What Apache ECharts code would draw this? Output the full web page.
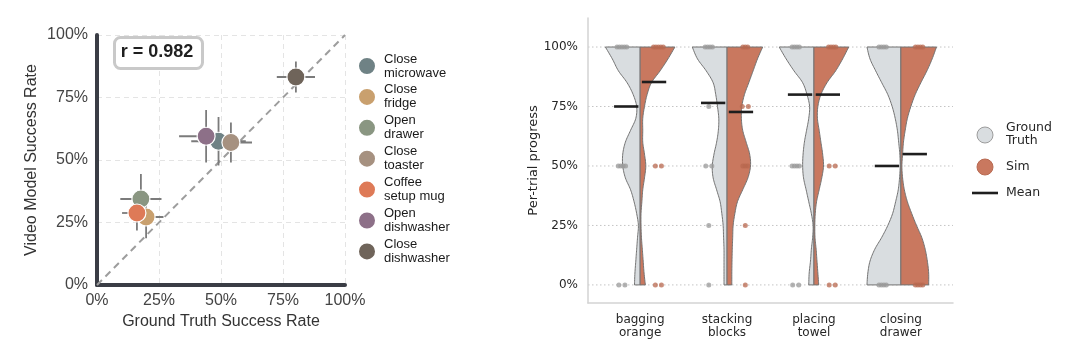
<!DOCTYPE html>
<html><head><meta charset="utf-8">
<script src="https://cdn.jsdelivr.net/npm/echarts@6/dist/echarts.min.js"></script>
<style>html,body{margin:0;padding:0;background:#fff}#c{width:1080px;height:351px}</style>
</head><body><div id="c"></div>
<script>
// ===== Left panel data =====
const tasks = ['Close microwave','Close fridge','Open drawer','Close toaster','Coffee setup mug','Open dishwasher','Close dishwasher'];
const taskColors = ['#6f8285','#c9a06e','#8a9682','#a69180','#de7a57','#8d7088','#6f645a'];
const gtRate    = [0.49, 0.198, 0.177, 0.54, 0.161, 0.44, 0.802];
const videoRate = [0.575, 0.272, 0.344, 0.57, 0.288, 0.595, 0.832];
const gtErr     = [0.11, 0.07, 0.083, 0.085, 0.06, 0.109, 0.077];
const videoErr  = [0.097, 0.085, 0.10, 0.08, 0.07, 0.105, 0.062];
const diagLine  = [[0,0],[1,1]];
const rText = 'r = 0.982';
const pctTicks = [0, 0.25, 0.5, 0.75, 1];

// ===== Right panel data =====
const violinCats = ['bagging orange','stacking blocks','placing towel','closing drawer'];
const densityLevels = [0,0.05,0.1,0.15,0.2,0.25,0.3,0.35,0.4,0.45,0.5,0.55,0.6,0.65,0.7,0.75,0.8,0.85,0.9,0.95,1];
const gtDensity = [
  [0.065,0.06,0.05,0.04,0.03,0.02,0.04,0.07,0.11,0.17,0.20,0.20,0.17,0.11,0.05,0.04,0.08,0.15,0.25,0.32,0.40],
  [0.035,0.035,0.035,0.035,0.04,0.045,0.06,0.08,0.12,0.16,0.17,0.15,0.12,0.10,0.095,0.11,0.13,0.16,0.24,0.34,0.40],
  [0.06,0.055,0.04,0.03,0.015,0.01,0.03,0.06,0.09,0.12,0.13,0.125,0.11,0.085,0.06,0.05,0.08,0.13,0.23,0.32,0.40],
  [0.39,0.38,0.355,0.30,0.22,0.15,0.095,0.06,0.03,0.015,0.008,0.012,0.025,0.04,0.065,0.10,0.15,0.22,0.29,0.355,0.39]
];
const simDensity = [
  [0.06,0.045,0.035,0.025,0.015,0.01,0.01,0.02,0.03,0.05,0.065,0.05,0.03,0.03,0.03,0.05,0.08,0.13,0.23,0.32,0.40],
  [0.055,0.055,0.057,0.06,0.065,0.07,0.09,0.12,0.18,0.24,0.27,0.26,0.22,0.18,0.165,0.17,0.20,0.25,0.30,0.35,0.41],
  [0.055,0.045,0.035,0.025,0.012,0.01,0.015,0.03,0.06,0.09,0.11,0.10,0.08,0.06,0.04,0.045,0.08,0.15,0.25,0.33,0.40],
  [0.32,0.32,0.305,0.28,0.24,0.18,0.125,0.075,0.04,0.02,0.012,0.02,0.03,0.05,0.075,0.115,0.165,0.23,0.30,0.36,0.41]
];
const gtMean  = [0.75, 0.765, 0.80, 0.50];
const simMean = [0.853, 0.727, 0.80, 0.55];
const gtTrials = [
  [1,1,1,1,1,0.5,0.5,0.5,0.5,0,0],
  [1,1,1,1,0.75,0.5,0.5,0.25,0],
  [1,1,1,1,0.5,0.5,0.5,0.5,0,0],
  [1,1,1,1,0,0,0,0]
];
const simTrials = [
  [1,1,1,1,1,0.5,0.5,0,0],
  [1,1,1,0.75,0.75,0.5,0.5,0.5,0.25,0],
  [1,1,1,1,0.5,0.5,0,0],
  [1,1,1,1,0,0,0,0]
];

// ===== helpers =====
const LEFT_FONT = "'Liberation Sans', Arial, sans-serif";
const RIGHT_FONT = "'DejaVu Sans', sans-serif";
const pctFmt = v => Math.round(v*100) + '%';

function smoothPts(pts, seg){
  const out=[];
  for(let i=0;i<pts.length-1;i++){
    const p0=pts[Math.max(i-1,0)], p1=pts[i], p2=pts[i+1], p3=pts[Math.min(i+2,pts.length-1)];
    for(let t=0;t<seg;t++){
      const s=t/seg, s2=s*s, s3=s2*s;
      const f=(a,b,c,d)=>0.5*((2*b)+(-a+c)*s+(2*a-5*b+4*c-d)*s2+(-a+3*b-3*c+d)*s3);
      out.push([f(p0[0],p1[0],p2[0],p3[0]), f(p0[1],p1[1],p2[1],p3[1])]);
    }
  }
  out.push(pts[pts.length-1]);
  return out;
}

function stripPoints(trials, side){
  const pts=[];
  trials.forEach((arr,ci)=>{
    const counts={}; arr.forEach(v=>{counts[v]=(counts[v]||0)+1;});
    const seen={};
    arr.forEach(v=>{
      const n=counts[v]; const k=(seen[v]=(seen[v]||0)+1)-1;
      const sp = n<=2 ? 0.07 : 0.028;
      pts.push([ci + side*0.21 + (k-(n-1)/2)*sp, v]);
    });
  });
  return pts;
}

function violinSeries(name, dens, side, fill){
  return {
    type:'custom', name, xAxisIndex:1, yAxisIndex:1, z:2, silent:true,
    data: violinCats.map((c,i)=>[i]),
    renderItem:(params, api)=>{
      const ci = params.dataIndex;
      const w = dens[ci];
      const edge = densityLevels.map((lv,j)=>api.coord([ci + side*w[j], lv]));
      const sm = smoothPts(edge, 8);
      const pts = [api.coord([ci,0])].concat(sm).concat([api.coord([ci,1])]);
      return {type:'polygon', shape:{points:pts}, style:{fill, stroke:'#737373', lineWidth:1}};
    }
  };
}

function meanSeries(name, means, side){
  return {
    type:'custom', name, xAxisIndex:1, yAxisIndex:1, z:5, silent:true,
    data: means.map((m,i)=>[i,m]),
    renderItem:(params, api)=>{
      const ci=api.value(0), m=api.value(1);
      const a=api.coord([ci+side*0.02, m]), b=api.coord([ci+side*0.30, m]);
      return {type:'line', shape:{x1:a[0],y1:a[1],x2:b[0],y2:b[1]}, style:{stroke:'#1e1e1e', lineWidth:2.6}};
    }
  };
}

const chart = echarts.init(document.getElementById('c'), null, {renderer:'canvas'});

const scatterSeries = tasks.map((t,i)=>({
  type:'scatter', name:t, xAxisIndex:0, yAxisIndex:0, z:4,
  data:[[gtRate[i], videoRate[i]]],
  symbolSize:18,
  itemStyle:{color:taskColors[i], borderColor:'#ffffff', borderWidth:1.2, opacity:1},
  emphasis:{disabled:true}
}));

const option = {
  animation:false,
  backgroundColor:'#ffffff',
  grid:[
    {left:97, top:35, width:248, height:250},
    {left:588, top:18, right:127, bottom:48}
  ],
  xAxis:[
    {type:'value', gridIndex:0, min:0, max:1, interval:0.25,
     name:'Ground Truth Success Rate', nameLocation:'middle', nameGap:25,
     nameTextStyle:{fontFamily:LEFT_FONT, fontSize:16, color:'#333333'},
     axisLine:{show:true, onZero:false, lineStyle:{color:'#3a3d45', width:4}},
     axisTick:{show:false},
     axisLabel:{formatter:pctFmt, fontFamily:LEFT_FONT, fontSize:16, color:'#444444', margin:8},
     splitLine:{show:true, lineStyle:{color:'#e4e4e4', type:[5,4], width:1}}
    },
    {type:'value', gridIndex:1, min:-0.6, max:3.6,
     axisLine:{show:true, onZero:false, lineStyle:{color:'#d3d3d3', width:1.5}},
     axisTick:{show:false},
     splitLine:{show:false},
     axisLabel:{customValues:[0,1,2,3], formatter:v=>violinCats[Math.round(v)].replace(' ','\n'),
       fontFamily:RIGHT_FONT, fontSize:12, lineHeight:13, color:'#262626', margin:10}
    }
  ],
  yAxis:[
    {type:'value', gridIndex:0, min:0, max:1, interval:0.25,
     name:'Video Model Success Rate', nameLocation:'middle', nameGap:57, nameRotate:90,
     nameTextStyle:{fontFamily:LEFT_FONT, fontSize:16, color:'#333333'},
     axisLine:{show:true, onZero:false, lineStyle:{color:'#3a3d45', width:4}},
     axisTick:{show:false},
     axisLabel:{formatter:pctFmt, fontFamily:LEFT_FONT, fontSize:16, color:'#444444', margin:9},
     splitLine:{show:true, lineStyle:{color:'#e4e4e4', type:[5,4], width:1}}
    },
    {type:'value', gridIndex:1, min:-0.076, max:1.122,
     name:'Per-trial progress', nameLocation:'middle', nameGap:48, nameRotate:90,
     nameTextStyle:{fontFamily:RIGHT_FONT, fontSize:13, color:'#262626'},
     axisLine:{show:true, onZero:false, lineStyle:{color:'#d3d3d3', width:1.5}},
     axisTick:{show:false},
     splitLine:{show:false},
     axisLabel:{customValues:pctTicks, formatter:pctFmt, fontFamily:RIGHT_FONT, fontSize:12, color:'#262626', margin:10}
    }
  ],
  legend:[{
    data:tasks, orient:'vertical', left:352, top:47, itemWidth:18, itemHeight:18, itemGap:2.9,
    icon:'circle', selectedMode:false,
    formatter:n=>n.replace(' ','\n'),
    textStyle:{fontFamily:LEFT_FONT, fontSize:13, lineHeight:14, color:'#1a1a1a', padding:[0,0,0,3]}
  }],
  graphic:[
    {type:'rect', left:113, top:36, shape:{width:88, height:31, r:6}, style:{fill:'#ffffff', stroke:'#c9c9c9', lineWidth:3}, z:10},
    {type:'text', x:157, y:52, style:{text:rText, font:"bold 18px 'Liberation Sans', Arial, sans-serif", fill:'#1f1f1f', align:'center', verticalAlign:'middle'}, z:11},
    {type:'circle', shape:{cx:985, cy:135, r:8}, style:{fill:'#d9dde0', stroke:'#9c9c9c', lineWidth:1}},
    {type:'text', x:1006, y:134, style:{text:'Ground\nTruth', font:"12.5px 'DejaVu Sans', sans-serif", lineHeight:13, fill:'#262626', verticalAlign:'middle'}},
    {type:'circle', shape:{cx:985, cy:167, r:8}, style:{fill:'#c9785f', stroke:'#b86a52', lineWidth:1}},
    {type:'text', x:1006, y:167, style:{text:'Sim', font:"12.5px 'DejaVu Sans', sans-serif", fill:'#262626', verticalAlign:'middle'}},
    {type:'line', shape:{x1:972, y1:193, x2:998, y2:193}, style:{stroke:'#1e1e1e', lineWidth:2.6}},
    {type:'text', x:1006, y:193, style:{text:'Mean', font:"12.5px 'DejaVu Sans', sans-serif", fill:'#262626', verticalAlign:'middle'}}
  ],
  series:[
    {type:'line', xAxisIndex:0, yAxisIndex:0, data:diagLine, symbol:'none', silent:true, z:1,
     lineStyle:{color:'#9d9d9d', width:2, type:[7,5]}},
    {type:'custom', xAxisIndex:0, yAxisIndex:0, z:2, silent:true,
     data: tasks.map((t,i)=>[gtRate[i], videoRate[i], gtErr[i], videoErr[i]]),
     renderItem:(params, api)=>{
       const x=api.value(0), y=api.value(1), ex=api.value(2), ey=api.value(3);
       const l=api.coord([x-ex,y]), r=api.coord([x+ex,y]), t=api.coord([x,y+ey]), b=api.coord([x,y-ey]);
       const st={stroke:'#7b7b7b', lineWidth:1.8};
       return {type:'group', children:[
         {type:'line', shape:{x1:l[0],y1:l[1],x2:r[0],y2:r[1]}, style:st},
         {type:'line', shape:{x1:t[0],y1:t[1],x2:b[0],y2:b[1]}, style:st}
       ]};
     }
    },
    ...scatterSeries,
    {type:'custom', xAxisIndex:1, yAxisIndex:1, z:0, silent:true,
     data: pctTicks.map(v=>[v]),
     renderItem:(params, api)=>{
       const v=api.value(0);
       const a=api.coord([-0.6, v]), b=api.coord([3.6, v]);
       return {type:'line', shape:{x1:a[0],y1:a[1],x2:b[0],y2:b[1]}, style:{stroke:'#c4c4c4', lineWidth:1, lineDash:[1.5,2.5]}};
     }
    },
    violinSeries('Ground Truth', gtDensity, -1, '#d9dde0'),
    violinSeries('Sim', simDensity, 1, '#c9785f'),
    {type:'scatter', name:'gtPts', xAxisIndex:1, yAxisIndex:1, z:3, silent:true, symbolSize:5,
     data: stripPoints(gtTrials, -1), itemStyle:{color:'#9a9a9a', opacity:0.75}},
    {type:'scatter', name:'simPts', xAxisIndex:1, yAxisIndex:1, z:3, silent:true, symbolSize:5,
     data: stripPoints(simTrials, 1), itemStyle:{color:'#b8684f', opacity:0.75}},
    meanSeries('Mean', gtMean, -1),
    meanSeries('Mean', simMean, 1)
  ]
};
chart.setOption(option);
</script>
</body></html>
